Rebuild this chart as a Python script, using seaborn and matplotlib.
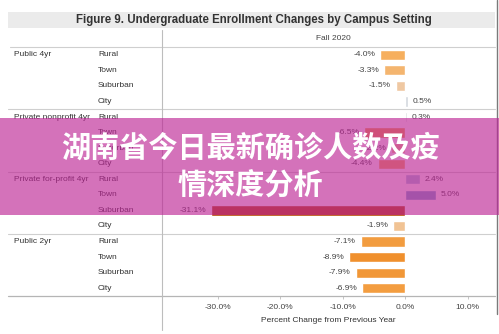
import matplotlib
matplotlib.use("Agg")
import matplotlib.pyplot as plt
import matplotlib.transforms as mtransforms
from matplotlib.colors import LinearSegmentedColormap
from matplotlib.lines import Line2D
from matplotlib.patches import Rectangle
import pandas as pd
import seaborn as sns

# ---- data -------------------------------------------------------------
sectors = ["Public 4yr", "Private nonprofit 4yr", "Private for-profit 4yr", "Public 2yr"]
settings = ["Rural", "Town", "Suburban", "City"]
public_4yr = [-4.0, -3.3, -1.5, 0.5]
private_nonprofit_4yr = [0.3, -6.5, -2.2, -4.4]
private_forprofit_4yr = [2.4, 5.0, -31.1, -1.9]
public_2yr = [-7.1, -8.9, -7.9, -6.9]
x_ticks = [-30, -20, -10, 0, 10]
x_tick_labels = ["-30.0%", "-20.0%", "-10.0%", "0.0%", "10.0%"]
title = "Figure 9. Undergraduate Enrollment Changes by Campus Setting"
column_header = "Fall 2020"
x_label = "Percent Change from Previous Year"
banner_lines = ["湖南省今日最新确诊人数及疫", "情深度分析"]

rows = []
for sector, vals in zip(sectors, [public_4yr, private_nonprofit_4yr,
                                  private_forprofit_4yr, public_2yr]):
    for setting, v in zip(settings, vals):
        rows.append({"sector": sector, "setting": setting,
                     "row": f"{sector} / {setting}", "change": v})
df = pd.DataFrame(rows)

# ---- diverging orange / blue colour scale -----------------------------
vmin, vmax = -32.0, 8.0
nodes = [(-32, "#b34700"), (-9, "#f0902c"), (-4, "#f6ae5c"), (-1.5, "#f0c79e"),
         (0, "#dedede"), (0.5, "#d6d9de"), (2.4, "#a9c3de"), (5, "#7ba4cf"),
         (8, "#4f7fb8")]
cmap = LinearSegmentedColormap.from_list(
    "orange_blue", [((v - vmin) / (vmax - vmin), c) for v, c in nodes])
palette = {r: cmap((v - vmin) / (vmax - vmin)) for r, v in zip(df["row"], df["change"])}

# ---- figure -----------------------------------------------------------
sns.set_theme(style="white")
plt.rcParams["font.family"] = ["Liberation Sans", "DejaVu Sans"]

W, H = 499, 334
fig = plt.figure(figsize=(W / 100, H / 100), dpi=100)
fig.patch.set_facecolor("white")


def fx(px):
    return px / W


def fy(py):
    return 1 - py / H


ax = fig.add_axes([fx(162), fy(296), (495 - 162) / W, (296 - 47) / H])
sns.barplot(data=df, y="row", x="change", hue="row", palette=palette,
            orient="h", width=0.66, saturation=1, legend=False, ax=ax)
ax.set_xlim(-38.9, 14.4)
ax.set_ylim(len(df) - 0.5, -0.5)
for s in ax.spines.values():
    s.set_visible(False)
ax.set_yticks([])
ax.set_ylabel("")
ax.set_xlabel("")
ax.set_xticks(x_ticks)
ax.set_xticklabels(x_tick_labels)
ax.tick_params(axis="x", labelsize=6, colors="#444444", length=2, width=0.6,
               pad=4, bottom=True)
ax.tick_params(axis="x", color="#bbbbbb")

# value labels at the bar ends
for i, v in enumerate(df["change"]):
    off = mtransforms.offset_copy(ax.transData, fig=fig,
                                  x=(-3.5 if v < 0 else 3.5), units="points")
    ax.text(v, i, f"{v:.1f}%", transform=off, fontsize=6, color="#444444",
            ha="right" if v < 0 else "left", va="center")

# row headers on the left
blend = mtransforms.blended_transform_factory(fig.transFigure, ax.transData)
for i, (sector, setting) in enumerate(zip(df["sector"], df["setting"])):
    if setting == settings[0]:
        fig.text(fx(14), i, sector, transform=blend, fontsize=6,
                 color="#333333", va="center", ha="left")
    fig.text(fx(98), i, setting, transform=blend, fontsize=6,
             color="#333333", va="center", ha="left")

# group separators
for yb in [3.5, 7.5, 11.5]:
    fig.add_artist(Line2D([fx(8), fx(495)], [yb, yb], transform=blend,
                          color="#cfcfcf", lw=0.8))
fig.add_artist(Line2D([fx(10), fx(495)], [fy(47), fy(47)], color="#cfcfcf", lw=0.8))
fig.add_artist(Line2D([fx(8), fx(495)], [fy(296), fy(296)], color="#b5b5b5", lw=0.9))
fig.add_artist(Line2D([fx(162), fx(162)], [fy(30), fy(330)], color="#bdbdbd", lw=0.8))
fig.add_artist(Line2D([fx(497), fx(497)], [fy(0), fy(314)], color="#7a7a7a", lw=1.0))

# title band
fig.add_artist(Rectangle((fx(8), fy(28)), (495 - 8) / W, 16 / H,
                         facecolor="#ebebeb", edgecolor="none"))
fig.text(fx(254), fy(20), title, fontsize=8.3, fontweight="bold",
         color="#333333", ha="center", va="center")
fig.text(fx(333), fy(38), column_header, fontsize=6, color="#444444",
         ha="center", va="center")
fig.text(fx(328), fy(321), x_label, fontsize=6, color="#333333",
         ha="center", va="center")

# banner across the middle
fig.add_artist(Rectangle((0, fy(215)), 1, (215 - 118) / H,
                         facecolor=(0.74, 0.15, 0.59), alpha=0.65,
                         edgecolor="none", zorder=10))
for text, yc in zip(banner_lines, [148, 186]):
    fig.text(fx(250), fy(yc), text, fontsize=21, fontweight="heavy",
             color="white", ha="center", va="center", zorder=11,
             family=["Noto Sans CJK SC", "DejaVu Sans"])

fig.savefig("out.png", dpi=100)
